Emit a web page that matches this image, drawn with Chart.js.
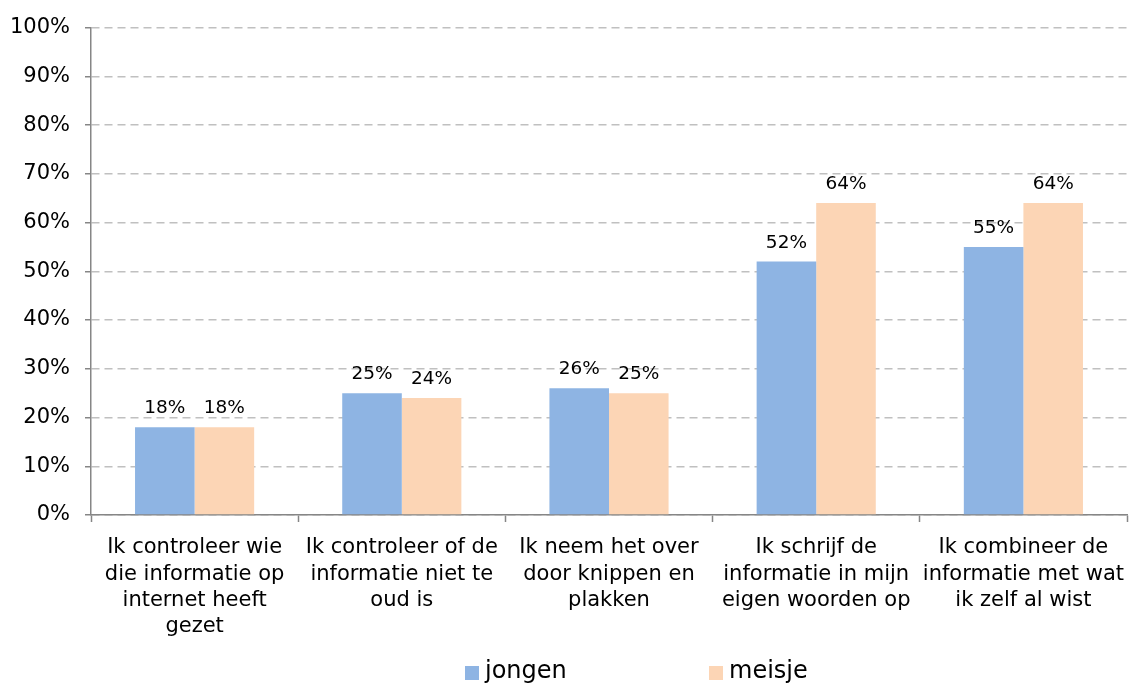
<!DOCTYPE html>
<html>
<head>
<meta charset="utf-8">
<script src="https://cdn.jsdelivr.net/npm/chart.js@4/dist/chart.umd.min.js"></script>
<style>
  html, body { margin: 0; padding: 0; background: #ffffff; }
  #wrap { width: 1129px; height: 684px; }
</style>
</head>
<body>
<div id="wrap"><canvas id="c" width="1129" height="684"></canvas></div>
<script>
// Survey statements (multi-line category labels)
const categories = [
  ["Ik controleer wie", "die informatie op", "internet heeft", "gezet"],
  ["Ik controleer of de", "informatie niet te", "oud is"],
  ["Ik neem het over", "door knippen en", "plakken"],
  ["Ik schrijf de", "informatie in mijn", "eigen woorden op"],
  ["Ik combineer de", "informatie met wat", "ik zelf al wist"]
];
const seriesNames = ["jongen", "meisje"];
const jongen = [18, 25, 26, 52, 55];
const meisje = [18, 24, 25, 64, 64];
const yTicks = [0, 10, 20, 30, 40, 50, 60, 70, 80, 90, 100];

const FONT = "'DejaVu Sans', Verdana, sans-serif";
const colors = ["#8EB4E3", "#FCD5B5"];

// Percentage labels above every bar
const valueLabels = {
  id: 'valueLabels',
  afterDatasetsDraw(chart) {
    const ctx = chart.ctx;
    ctx.save();
    ctx.font = "18.5px " + FONT;
    ctx.fillStyle = "#000000";
    ctx.textAlign = "center";
    ctx.textBaseline = "alphabetic";
    chart.data.datasets.forEach((ds, i) => {
      const meta = chart.getDatasetMeta(i);
      meta.data.forEach((bar, j) => {
        ctx.fillText(ds.data[j] + "%", bar.x, bar.y - 14);
      });
    });
    ctx.restore();
  }
};

// Legend below the axis, items spaced widely apart
const wideLegend = {
  id: 'wideLegend',
  afterDraw(chart) {
    const ctx = chart.ctx;
    ctx.save();
    ctx.font = "24px " + FONT;
    ctx.textAlign = "left";
    ctx.textBaseline = "middle";
    const startX = 465, step = 244, boxTop = 666, box = 14;
    chart.data.datasets.forEach((ds, i) => {
      const x = startX + i * step;
      ctx.fillStyle = ds.backgroundColor;
      ctx.fillRect(x, boxTop, box, box);
      ctx.fillStyle = "#000000";
      ctx.fillText(ds.label, x + 20, boxTop + box / 2 - 1);
    });
    ctx.restore();
  }
};

new Chart(document.getElementById('c'), {
  type: 'bar',
  data: {
    labels: categories,
    datasets: [
      { label: seriesNames[0], data: jongen, backgroundColor: colors[0] },
      { label: seriesNames[1], data: meisje, backgroundColor: colors[1] }
    ]
  },
  options: {
    responsive: false,
    animation: false,
    devicePixelRatio: 1,
    layout: { padding: { top: 26, right: 2, left: 0, bottom: 20 } },
    datasets: {
      bar: { categoryPercentage: 0.575, barPercentage: 1.0, borderWidth: 0 }
    },
    plugins: {
      legend: { display: false },
      tooltip: { enabled: false }
    },
    scales: {
      x: {
        offset: true,
        grid: {
          offset: true,
          drawOnChartArea: false,
          drawTicks: true,
          tickLength: 7,
          tickColor: "#868686",
          tickWidth: 1.5
        },
        border: { display: true, color: "#868686", width: 1.5 },
        ticks: {
          autoSkip: false,
          maxRotation: 0,
          minRotation: 0,
          padding: 13,
          color: "#000000",
          font: { family: FONT, size: 21, lineHeight: 1.24 }
        },
        afterFit(scale) {
          scale.height = 149;
          scale.paddingLeft = 0;
          scale.paddingRight = 0;
        }
      },
      y: {
        min: 0,
        max: 100,
        afterBuildTicks(scale) { scale.ticks = yTicks.map(v => ({ value: v })); },
        grid: {
          color: "#C0C0C0",
          lineWidth: 1.5,
          drawTicks: true,
          tickLength: 6,
          tickColor: "#868686",
          tickWidth: 1.5,
          tickBorderDash: []
        },
        border: { display: true, color: "#868686", width: 1.5, dash: [8, 5] },
        ticks: {
          padding: 15,
          color: "#000000",
          font: { family: FONT, size: 21 },
          callback: (v) => v + "%"
        },
        afterFit(scale) { scale.width = 91; }
      }
    }
  },
  plugins: [valueLabels, wideLegend]
});
</script>
</body>
</html>
